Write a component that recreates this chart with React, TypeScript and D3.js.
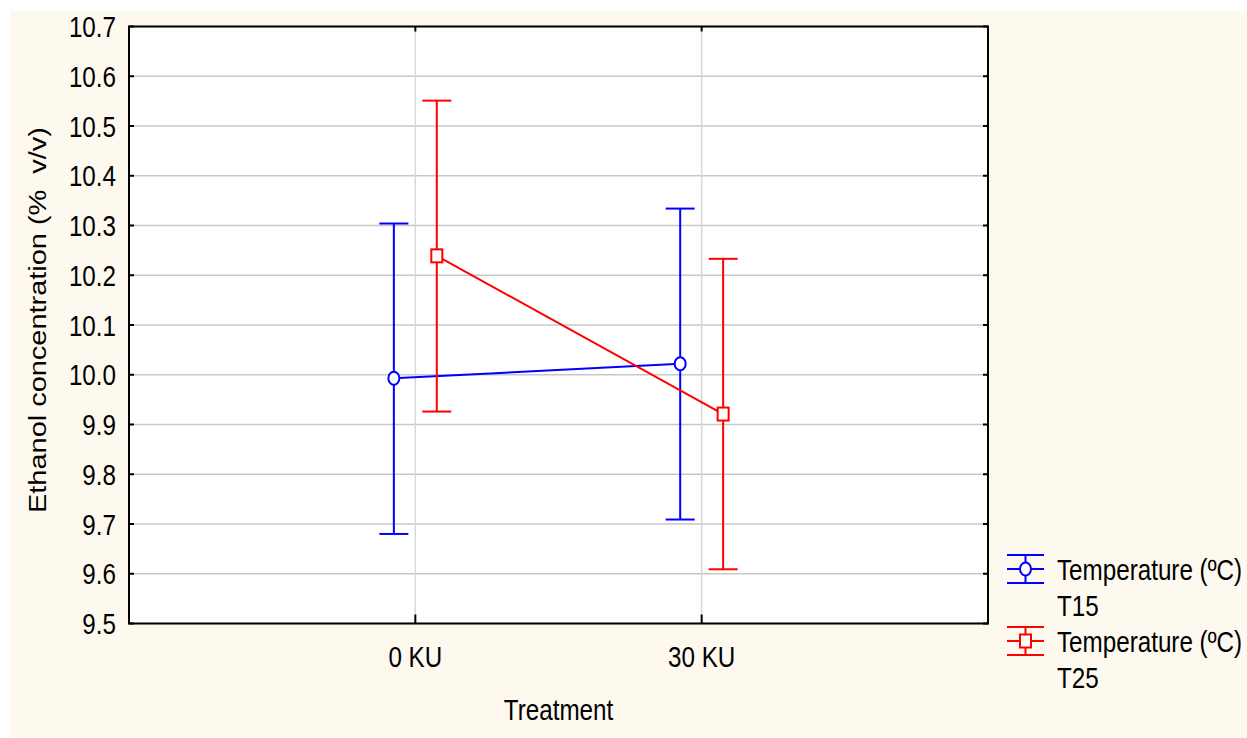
import React from "react";
import * as d3 from "d3";

const categories = ["0 KU", "30 KU"];
const seriesNames = ["T15", "T25"];
const seriesLabel = "Temperature (ºC)";
const t15Mean = [9.993, 10.022];
const t15Upper = [10.304, 10.334];
const t15Lower = [9.68, 9.709];
const t25Mean = [10.239, 9.921];
const t25Upper = [10.551, 10.233];
const t25Lower = [9.926, 9.609];
const yTicks = [9.5, 9.6, 9.7, 9.8, 9.9, 10.0, 10.1, 10.2, 10.3, 10.4, 10.5, 10.6, 10.7];
const xTitle = "Treatment";
const yTitle = "Ethanol concentration (%  v/v)";

const W = 1247;
const H = 738;
const L = 129, R = 988, T = 26.5, B = 623.5;
const FONT = "'Liberation Sans', Arial, sans-serif";
const SX = 0.835;
const FS = 29;

const x = d3.scaleLinear().domain([-1, 2]).range([L, R]);
const y = d3.scaleLinear().domain([9.5, 10.7]).range([B, T]);

const series = [
  { name: seriesNames[0], color: "#0000ff", mean: t15Mean, up: t15Upper, lo: t15Lower, off: -0.075, shape: "circle" },
  { name: seriesNames[1], color: "#ff0000", mean: t25Mean, up: t25Upper, lo: t25Lower, off: 0.075, shape: "square" },
];

function Txt({ x: tx, y: ty, anchor = "start", size = FS, children }: any) {
  return (
    <text
      transform={`translate(${tx},${ty}) scale(${SX},1)`}
      textAnchor={anchor}
      fontSize={size}
      fontFamily={FONT}
      fill="#000"
    >
      {children}
    </text>
  );
}

function Marker({ shape, cx, cy, color }: any) {
  if (shape === "circle") {
    return <ellipse cx={cx} cy={cy} rx={5.5} ry={6.5} fill="#fff" stroke={color} strokeWidth={2} />;
  }
  return <rect x={cx - 5.5} y={cy - 6.5} width={11} height={13} fill="#fff" stroke={color} strokeWidth={2} />;
}

export default function App() {
  const cap = 14.5;
  return (
    <svg width={W} height={H} style={{ position: "absolute", left: 0, top: 0 }}>
      <rect x={0} y={0} width={W} height={H} fill="#fff" />
      <rect x={10} y={11} width={W - 10} height={H - 11} fill="#fdf9ef" />
      <rect x={L} y={T} width={R - L} height={B - T} fill="#fff" />
      {yTicks.map((t) => (
        <line key={"g" + t} x1={L} x2={R} y1={y(t)} y2={y(t)} stroke="#c8c8c8" strokeWidth={1.3} />
      ))}
      {categories.map((c, i) => (
        <line key={"vg" + c} x1={x(i)} x2={x(i)} y1={T} y2={B} stroke="#d8d8d8" strokeWidth={1.5} />
      ))}
      <rect x={L} y={T} width={R - L} height={B - T} fill="none" stroke="#000" strokeWidth={2} />
      {yTicks.map((t) => (
        <g key={"t" + t}>
          <line x1={L} x2={L + 5} y1={y(t)} y2={y(t)} stroke="#000" strokeWidth={2} />
          <line x1={R - 5} x2={R} y1={y(t)} y2={y(t)} stroke="#000" strokeWidth={2} />
          <Txt x={116} y={y(t) + 10.5} anchor="end">{d3.format(".1f")(t)}</Txt>
        </g>
      ))}
      {categories.map((c, i) => (
        <g key={"xt" + c}>
          <line x1={x(i)} x2={x(i)} y1={B - 9} y2={B} stroke="#000" strokeWidth={2} />
          <line x1={x(i)} x2={x(i)} y1={T} y2={T + 5} stroke="#000" strokeWidth={2} />
          <Txt x={x(i)} y={667} anchor="middle">{c}</Txt>
        </g>
      ))}
      <Txt x={(L + R) / 2} y={720} anchor="middle">{xTitle}</Txt>
      <text
        transform={`translate(46,320) scale(${SX},1) rotate(-90)`}
        textAnchor="middle"
        fontSize={FS}
        fontFamily={FONT}
        textLength={386}
        lengthAdjust="spacing"
        style={{ whiteSpace: "pre" }}
      >
        {yTitle}
      </text>
      {series.map((s) => (
        <g key={s.name}>
          {s.mean.map((m, i) => {
            const cx = x(i + s.off);
            return (
              <g key={i}>
                <line x1={cx} x2={cx} y1={y(s.up[i])} y2={y(s.lo[i])} stroke={s.color} strokeWidth={2} />
                <line x1={cx - cap} x2={cx + cap} y1={y(s.up[i])} y2={y(s.up[i])} stroke={s.color} strokeWidth={2} />
                <line x1={cx - cap} x2={cx + cap} y1={y(s.lo[i])} y2={y(s.lo[i])} stroke={s.color} strokeWidth={2} />
              </g>
            );
          })}
          <path
            d={d3.line<number>().x((_, i) => x(i + s.off)).y((d) => y(d))(s.mean) || ""}
            fill="none"
            stroke={s.color}
            strokeWidth={2}
          />
          {s.mean.map((m, i) => (
            <Marker key={"m" + i} shape={s.shape} cx={x(i + s.off)} cy={y(m)} color={s.color} />
          ))}
        </g>
      ))}
      {series.map((s, k) => {
        const cy = 569 + k * 72;
        const lx1 = 1007, lx2 = 1044, lcx = (lx1 + lx2) / 2;
        return (
          <g key={"lg" + s.name}>
            <line x1={lx1} x2={lx2} y1={cy - 14} y2={cy - 14} stroke={s.color} strokeWidth={2} />
            <line x1={lx1} x2={lx2} y1={cy} y2={cy} stroke={s.color} strokeWidth={2} />
            <line x1={lx1} x2={lx2} y1={cy + 14} y2={cy + 14} stroke={s.color} strokeWidth={2} />
            <line x1={lcx} x2={lcx} y1={cy - 14} y2={cy + 14} stroke={s.color} strokeWidth={2} />
            <Marker shape={s.shape} cx={lcx} cy={cy} color={s.color} />
            <Txt x={1057} y={cy + 11}>{seriesLabel}</Txt>
            <Txt x={1057} y={cy + 47}>{s.name}</Txt>
          </g>
        );
      })}
    </svg>
  );
}
